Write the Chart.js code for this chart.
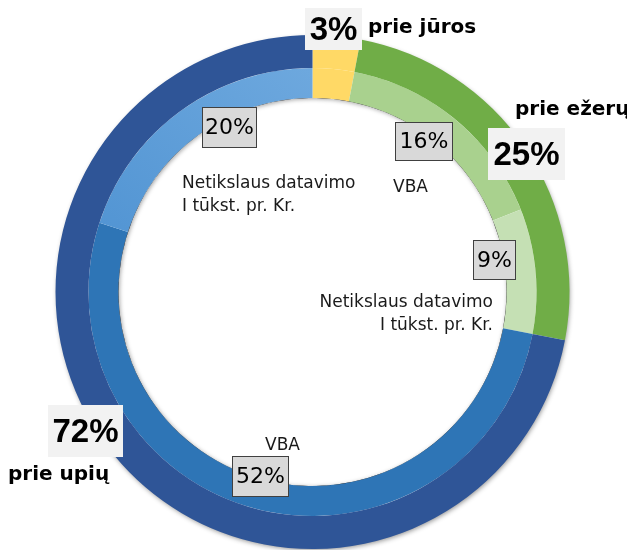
<!DOCTYPE html>
<html>
<head>
<meta charset="utf-8">
<script src="https://cdn.jsdelivr.net/npm/chart.js@4"></script>
<style>
  html, body { margin: 0; padding: 0; background: #fff; }
  #wrap { position: relative; width: 627px; height: 550px; }
</style>
</head>
<body>
<div id="wrap"><canvas id="ring"></canvas></div>
<script>
// outer ring: where the sites lie
const outerNames = ["prie jūros", "prie ežerų", "prie upių"];
const outerValues = [3, 25, 72];
const outerColors = ["#FFD966", "#70AD47", "#2F5597"];

// inner ring: split by dating
const innerNames = ["prie jūros", "VBA", "Netikslaus datavimo\nI tūkst. pr. Kr.", "VBA", "Netikslaus datavimo\nI tūkst. pr. Kr."];
const innerValues = [3, 16, 9, 52, 20];
const innerColors = ["#FFD966", "#A9D18E", "#C5E0B4", "#2E75B6", "#5B9BD5"];

// where each label sits (ring, index, percent box, name text)
const layout = [
  { ring: 0, i: 0, box: [305, 8, 57, 42], big: true, name: [368, 33, "left"] },
  { ring: 0, i: 1, box: [488, 128, 77, 52], big: true, name: [515, 115, "left"] },
  { ring: 0, i: 2, box: [48, 405, 75, 52], big: true, name: [8, 480, "left"] },
  { ring: 1, i: 1, box: [395, 122, 58, 39], name: [393, 192, "left"] },
  { ring: 1, i: 2, box: [473, 240, 43, 40], name: [493, 307, "right"] },
  { ring: 1, i: 3, box: [232, 456, 57, 41], name: [265, 450, "left"] },
  { ring: 1, i: 4, box: [202, 107, 55, 41], name: [182, 188, "left"] }
];

function innerColor(c) {
  const base = innerColors[c.dataIndex];
  const area = c.chart.chartArea;
  if (c.dataIndex !== 4 || !area) return base;
  const cx = (area.left + area.right) / 2, cy = (area.top + area.bottom) / 2;
  const g = c.chart.ctx.createLinearGradient(cx, area.top, area.left, cy + 40);
  g.addColorStop(0, "#70AADF");
  g.addColorStop(1, "#478DCF");
  return g;
}

const shadows = {
  id: "shadows",
  beforeDatasetsDraw(chart) {
    const arc = chart.getDatasetMeta(0).data[0];
    if (!arc) return;
    const ctx = chart.ctx;
    ctx.save();
    ctx.shadowColor = "rgba(0,0,0,0.45)";
    ctx.shadowBlur = 5;
    ctx.shadowOffsetX = 1;
    ctx.shadowOffsetY = 2;
    ctx.fillStyle = "#fff";
    ctx.beginPath();
    ctx.arc(arc.x, arc.y, arc.outerRadius - 1, 0, Math.PI * 2);
    ctx.fill();
    ctx.restore();
  },
  afterDatasetsDraw(chart) {
    const arc = chart.getDatasetMeta(1).data[0];
    if (!arc) return;
    const ctx = chart.ctx, r = arc.innerRadius;
    ctx.save();
    ctx.beginPath();
    ctx.arc(arc.x, arc.y, r, 0, Math.PI * 2);
    ctx.clip();
    ctx.shadowColor = "rgba(0,0,0,0.35)";
    ctx.shadowBlur = 4;
    ctx.shadowOffsetX = 1;
    ctx.shadowOffsetY = 1;
    ctx.strokeStyle = "#000";
    ctx.lineWidth = 12;
    ctx.beginPath();
    ctx.arc(arc.x, arc.y, r + 6, 0, Math.PI * 2);
    ctx.stroke();
    ctx.restore();
  }
};

const labels = {
  id: "labels",
  afterDraw(chart) {
    const ctx = chart.ctx;
    ctx.save();
    layout.forEach(l => {
      const values = l.ring === 0 ? outerValues : innerValues;
      const names = l.ring === 0 ? outerNames : innerNames;
      const [bx, by, bw, bh] = l.box;
      if (l.big) {
        ctx.fillStyle = "#F2F2F2";
        ctx.fillRect(bx, by, bw, bh);
      } else {
        ctx.fillStyle = "#D9D9D9";
        ctx.fillRect(bx, by, bw, bh);
        ctx.strokeStyle = "#404040";
        ctx.lineWidth = 1;
        ctx.strokeRect(bx + 0.5, by + 0.5, bw - 1, bh - 1);
      }
      ctx.fillStyle = "#000";
      ctx.textAlign = "center";
      ctx.textBaseline = "middle";
      ctx.font = l.big ? "bold 33px 'Liberation Sans'" : "22px 'DejaVu Sans'";
      ctx.fillText(values[l.i] + "%", bx + bw / 2, by + bh / 2 + (l.big ? 2 : 1));

      const [nx, ny, align] = l.name;
      ctx.textAlign = align;
      ctx.textBaseline = "alphabetic";
      ctx.font = l.ring === 0 ? "bold 20px 'DejaVu Sans'" : "17px 'DejaVu Sans'";
      ctx.fillStyle = l.ring === 0 ? "#000" : "#1a1a1a";
      names[l.i].split("\n").forEach((line, k) => ctx.fillText(line, nx, ny + k * 23));
    });
    ctx.restore();
  }
};

new Chart(document.getElementById("ring"), {
  type: "doughnut",
  data: {
    labels: outerNames,
    datasets: [
      { data: outerValues, backgroundColor: outerColors, borderWidth: 0, weight: 33 },
      { data: innerValues, backgroundColor: innerColor, borderWidth: 0, weight: 30 }
    ]
  },
  options: {
    responsive: true,
    maintainAspectRatio: false,
    animation: false,
    events: [],
    cutout: "75.5%",
    layout: { padding: { left: 54, right: 56, top: 35, bottom: 1 } },
    plugins: { legend: { display: false }, tooltip: { enabled: false } }
  },
  plugins: [shadows, labels]
});
</script>
</body>
</html>
